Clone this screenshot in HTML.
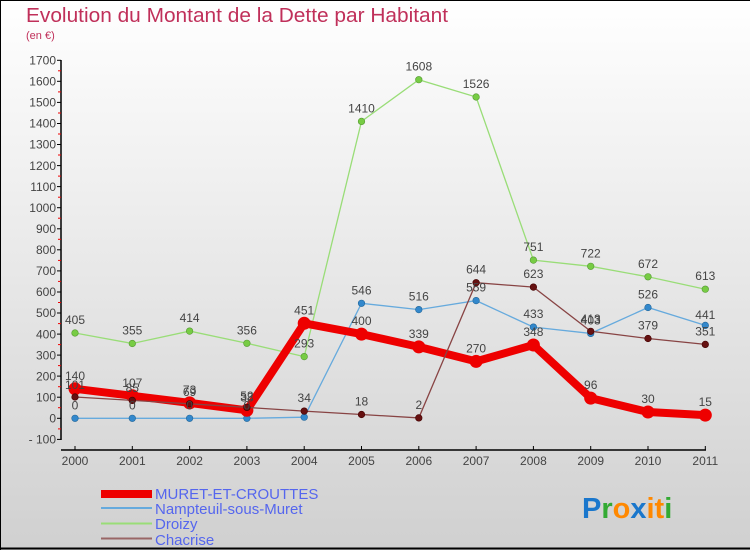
<!DOCTYPE html>
<html><head><meta charset="utf-8"><style>
html,body{margin:0;padding:0}
body{width:750px;height:550px;overflow:hidden}
svg text{font-family:"Liberation Sans",sans-serif}
</style></head><body>
<svg width="750" height="550" viewBox="0 0 750 550" xmlns="http://www.w3.org/2000/svg">
<defs><linearGradient id="bg" x1="0" y1="0" x2="0" y2="1"><stop offset="0" stop-color="#ffffff"/><stop offset="1" stop-color="#d0d0d0"/></linearGradient></defs>
<rect x="0" y="0" width="750" height="550" fill="url(#bg)"/>
<path d="M0.5,550 V0.5 H750" fill="none" stroke="#000" stroke-width="1"/>
<line x1="0" y1="548.5" x2="750" y2="548.5" stroke="#000" stroke-width="2"/>
<text x="26" y="22" font-size="20" fill="#c0305a" textLength="422" lengthAdjust="spacingAndGlyphs">Evolution du Montant de la Dette par Habitant</text>
<text x="26" y="39" font-size="11" fill="#c0305a">(en €)</text>
<g stroke="#000" stroke-width="1.5">
<line x1="61" y1="60" x2="61" y2="440"/>
<line x1="61" y1="450" x2="706" y2="450"/>
</g>
<g stroke="#000" stroke-width="1">
<line x1="57" y1="60.3" x2="61" y2="60.3"/><line x1="57" y1="81.3" x2="61" y2="81.3"/><line x1="57" y1="102.4" x2="61" y2="102.4"/><line x1="57" y1="123.5" x2="61" y2="123.5"/><line x1="57" y1="144.5" x2="61" y2="144.5"/><line x1="57" y1="165.6" x2="61" y2="165.6"/><line x1="57" y1="186.6" x2="61" y2="186.6"/><line x1="57" y1="207.7" x2="61" y2="207.7"/><line x1="57" y1="228.8" x2="61" y2="228.8"/><line x1="57" y1="249.8" x2="61" y2="249.8"/><line x1="57" y1="270.9" x2="61" y2="270.9"/><line x1="57" y1="292.0" x2="61" y2="292.0"/><line x1="57" y1="313.0" x2="61" y2="313.0"/><line x1="57" y1="334.1" x2="61" y2="334.1"/><line x1="57" y1="355.1" x2="61" y2="355.1"/><line x1="57" y1="376.1" x2="61" y2="376.1"/><line x1="57" y1="397.2" x2="61" y2="397.2"/><line x1="57" y1="418.3" x2="61" y2="418.3"/><line x1="57" y1="439.4" x2="61" y2="439.4"/>
</g>
<g stroke="#e00" stroke-width="1">
<line x1="58" y1="70.8" x2="61" y2="70.8"/><line x1="58" y1="91.9" x2="61" y2="91.9"/><line x1="58" y1="113" x2="61" y2="113"/><line x1="58" y1="134" x2="61" y2="134"/><line x1="58" y1="155" x2="61" y2="155"/><line x1="58" y1="176.1" x2="61" y2="176.1"/><line x1="58" y1="197.2" x2="61" y2="197.2"/><line x1="58" y1="218.2" x2="61" y2="218.2"/><line x1="58" y1="239.3" x2="61" y2="239.3"/><line x1="58" y1="260.4" x2="61" y2="260.4"/><line x1="58" y1="281.4" x2="61" y2="281.4"/><line x1="58" y1="302.5" x2="61" y2="302.5"/><line x1="58" y1="323.6" x2="61" y2="323.6"/><line x1="58" y1="344.6" x2="61" y2="344.6"/><line x1="58" y1="365.6" x2="61" y2="365.6"/><line x1="58" y1="386.7" x2="61" y2="386.7"/><line x1="58" y1="407.7" x2="61" y2="407.7"/><line x1="58" y1="428.9" x2="61" y2="428.9"/>
</g>
<g font-size="12" fill="#444" text-anchor="end">
<text x="56" y="64.5">1700</text><text x="56" y="85.5">1600</text><text x="56" y="106.6">1500</text><text x="56" y="127.7">1400</text><text x="56" y="148.7">1300</text><text x="56" y="169.8">1200</text><text x="56" y="190.8">1100</text><text x="56" y="211.9">1000</text><text x="56" y="233">900</text><text x="56" y="254">800</text><text x="56" y="275.1">700</text><text x="56" y="296.2">600</text><text x="56" y="317.2">500</text><text x="56" y="338.3">400</text><text x="56" y="359.3">300</text><text x="56" y="380.3">200</text><text x="56" y="401.4">100</text><text x="56" y="422.5">0</text><text x="56" y="443.6">- 100</text>
</g>
<g stroke="#000" stroke-width="1">
<line x1="75" y1="446" x2="75" y2="450"/><line x1="132.3" y1="446" x2="132.3" y2="450"/><line x1="189.6" y1="446" x2="189.6" y2="450"/><line x1="246.9" y1="446" x2="246.9" y2="450"/><line x1="304.2" y1="446" x2="304.2" y2="450"/><line x1="361.5" y1="446" x2="361.5" y2="450"/><line x1="418.8" y1="446" x2="418.8" y2="450"/><line x1="476.1" y1="446" x2="476.1" y2="450"/><line x1="533.4" y1="446" x2="533.4" y2="450"/><line x1="590.7" y1="446" x2="590.7" y2="450"/><line x1="648" y1="446" x2="648" y2="450"/><line x1="705.3" y1="446" x2="705.3" y2="450"/>
</g>
<g font-size="12" fill="#444" text-anchor="middle">
<text x="75" y="465">2000</text><text x="132.3" y="465">2001</text><text x="189.6" y="465">2002</text><text x="246.9" y="465">2003</text><text x="304.2" y="465">2004</text><text x="361.5" y="465">2005</text><text x="418.8" y="465">2006</text><text x="476.1" y="465">2007</text><text x="533.4" y="465">2008</text><text x="590.7" y="465">2009</text><text x="648" y="465">2010</text><text x="705.3" y="465">2011</text>
</g>

<polyline fill="none" stroke="#99dd77" stroke-width="1.3" points="75,333 132.3,343.5 189.6,331.1 246.9,343.3 304.2,356.6 361.5,121.4 418.8,79.7 476.1,97 533.4,260.1 590.7,266.3 648,276.8 705.3,289.2"/>
<g fill="#77cc44" stroke="#559933" stroke-width="0.6">
<circle cx="75" cy="333" r="3.3"/><circle cx="132.3" cy="343.5" r="3.3"/><circle cx="189.6" cy="331.1" r="3.3"/><circle cx="246.9" cy="343.3" r="3.3"/><circle cx="304.2" cy="356.6" r="3.3"/><circle cx="361.5" cy="121.4" r="3.3"/><circle cx="418.8" cy="79.7" r="3.3"/><circle cx="476.1" cy="97" r="3.3"/><circle cx="533.4" cy="260.1" r="3.3"/><circle cx="590.7" cy="266.3" r="3.3"/><circle cx="648" cy="276.8" r="3.3"/><circle cx="705.3" cy="289.2" r="3.3"/>
</g>
<polyline fill="none" stroke="#66aadd" stroke-width="1.3" points="75,418.3 132.3,418.3 189.6,418.3 246.9,418.3 304.2,417.2 361.5,303.3 418.8,309.6 476.1,300.6 533.4,327.1 590.7,333.4 648,307.5 705.3,325.4"/>
<g fill="#3388cc" stroke="#226699" stroke-width="0.6">
<circle cx="75" cy="418.3" r="3.3"/><circle cx="132.3" cy="418.3" r="3.3"/><circle cx="189.6" cy="418.3" r="3.3"/><circle cx="246.9" cy="418.3" r="3.3"/><circle cx="304.2" cy="417.2" r="3.3"/><circle cx="361.5" cy="303.3" r="3.3"/><circle cx="418.8" cy="309.6" r="3.3"/><circle cx="476.1" cy="300.6" r="3.3"/><circle cx="533.4" cy="327.1" r="3.3"/><circle cx="590.7" cy="333.4" r="3.3"/><circle cx="648" cy="307.5" r="3.3"/><circle cx="705.3" cy="325.4" r="3.3"/>
</g>
<polyline fill="none" stroke="#ee0000" stroke-width="8" stroke-linejoin="round" points="75,388.8 132.3,395.8 189.6,402.9 246.9,410.3 304.2,323.3 361.5,334.1 418.8,346.9 476.1,361.4 533.4,345 590.7,398.1 648,412 705.3,415.1"/>
<g fill="#ee0000">
<circle cx="75" cy="388.8" r="6.5"/><circle cx="132.3" cy="395.8" r="6.5"/><circle cx="189.6" cy="402.9" r="6.5"/><circle cx="246.9" cy="410.3" r="6.5"/><circle cx="304.2" cy="323.3" r="6.5"/><circle cx="361.5" cy="334.1" r="6.5"/><circle cx="418.8" cy="346.9" r="6.5"/><circle cx="476.1" cy="361.4" r="6.5"/><circle cx="533.4" cy="345" r="6.5"/><circle cx="590.7" cy="398.1" r="6.5"/><circle cx="648" cy="412" r="6.5"/><circle cx="705.3" cy="415.1" r="6.5"/>
</g>
<polyline fill="none" stroke="#884444" stroke-width="1.3" points="75,397 132.3,400.4 189.6,403.8 246.9,407.4 304.2,411.1 361.5,414.5 418.8,417.9 476.1,282.7 533.4,287.1 590.7,331.3 648,338.5 705.3,344.4"/>
<g fill="#661111" stroke="#440000" stroke-width="0.6">
<circle cx="75" cy="397" r="3.3"/><circle cx="132.3" cy="400.4" r="3.3"/><circle cx="189.6" cy="403.8" r="3.3"/><circle cx="246.9" cy="407.4" r="3.3"/><circle cx="304.2" cy="411.1" r="3.3"/><circle cx="361.5" cy="414.5" r="3.3"/><circle cx="418.8" cy="417.9" r="3.3"/><circle cx="476.1" cy="282.7" r="3.3"/><circle cx="533.4" cy="287.1" r="3.3"/><circle cx="590.7" cy="331.3" r="3.3"/><circle cx="648" cy="338.5" r="3.3"/><circle cx="705.3" cy="344.4" r="3.3"/>
</g>

<g font-size="12" fill="#444" text-anchor="middle">
<text x="75" y="324">405</text><text x="132.3" y="334.5">355</text><text x="189.6" y="322">414</text><text x="246.9" y="334.3">356</text><text x="304.2" y="347.6">293</text><text x="361.5" y="112.4">1410</text><text x="418.8" y="70.7">1608</text><text x="476.1" y="88">1526</text><text x="533.4" y="251">751</text><text x="590.7" y="257.3">722</text><text x="648" y="267.8">672</text><text x="705.3" y="280.2">613</text>
<text x="75" y="409.3">0</text><text x="132.3" y="409.3">0</text><text x="189.6" y="409.3">0</text><text x="246.9" y="409.3">0</text><text x="361.5" y="294.3">546</text><text x="418.8" y="300.6">516</text><text x="476.1" y="291.6">559</text><text x="533.4" y="318.1">433</text><text x="590.7" y="324.4">403</text><text x="648" y="298.5">526</text><text x="705.3" y="319">441</text>
<text x="75" y="389">101</text><text x="132.3" y="392">85</text><text x="189.6" y="396">69</text><text x="246.9" y="400">52</text><text x="304.2" y="402">34</text><text x="361.5" y="405.5">18</text><text x="418.8" y="409">2</text><text x="476.1" y="273.7">644</text><text x="533.4" y="278.1">623</text><text x="590.7" y="323">413</text><text x="648" y="329.5">379</text><text x="705.3" y="335.4">351</text>
<text x="75" y="379.8">140</text><text x="132.3" y="386.8">107</text><text x="189.6" y="393.9">73</text><text x="246.9" y="401.3">38</text><text x="304.2" y="314.3">451</text><text x="361.5" y="325.1">400</text><text x="418.8" y="337.9">339</text><text x="476.1" y="352.4">270</text><text x="533.4" y="336">348</text><text x="590.7" y="389.1">96</text><text x="648" y="403">30</text><text x="705.3" y="406.1">15</text>
</g>

<rect x="101" y="490" width="51" height="8" fill="#ee0000"/>
<line x1="101" y1="508" x2="152" y2="508" stroke="#66aadd" stroke-width="2"/>
<line x1="101" y1="523.5" x2="152" y2="523.5" stroke="#99dd77" stroke-width="2"/>
<line x1="101" y1="538.5" x2="152" y2="538.5" stroke="#996666" stroke-width="2"/>
<g font-size="15" fill="#5566ee">
<text x="155" y="499">MURET-ET-CROUTTES</text>
<text x="155" y="514">Nampteuil-sous-Muret</text>
<text x="155" y="529">Droizy</text>
<text x="155" y="545">Chacrise</text>
</g>
<text x="582" y="518" font-size="29" font-weight="bold"><tspan fill="#1a77cc">P</tspan><tspan fill="#33aa33">r</tspan><tspan fill="#ff8800">o</tspan><tspan fill="#1a77cc">x</tspan><tspan fill="#ff8800">it</tspan><tspan fill="#33aa33">i</tspan></text>
</svg>
</body></html>
